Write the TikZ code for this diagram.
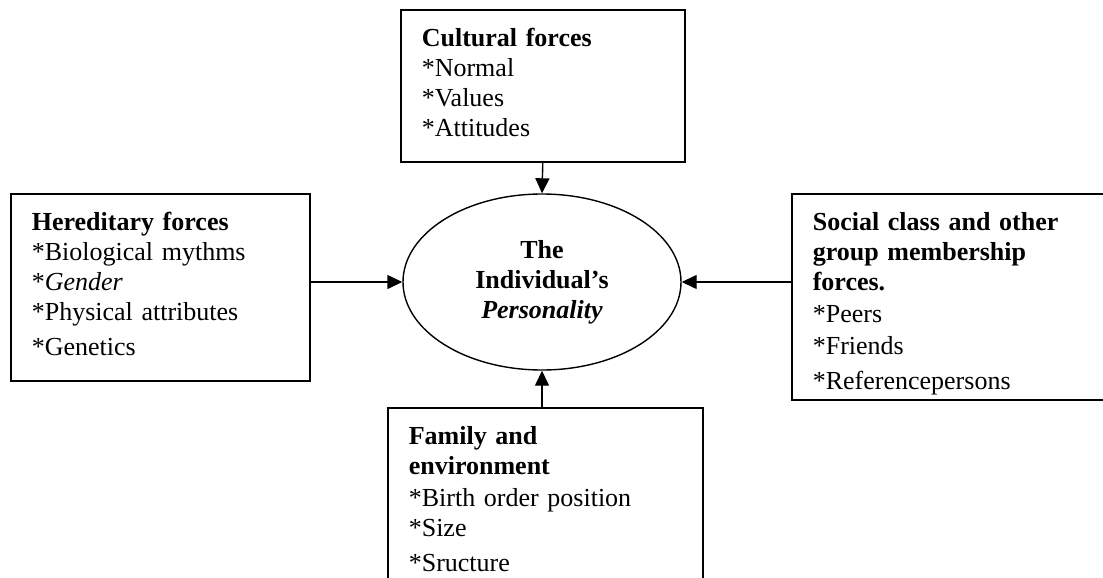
\documentclass[tikz,border=0pt]{standalone}
\usepackage{fontspec}
\setmainfont{Liberation Serif}
\usepackage{tikz}
\usetikzlibrary{arrows.meta,shapes.geometric}

\begin{document}
\begin{tikzpicture}[x=0.5pt, y=-0.5pt,
    forcebox/.style={draw, line width=0.8pt, anchor=north west, align=left,
        inner xsep=10.5pt, inner ysep=8pt, font=\fontsize{13}{15}\selectfont},
    pushes/.style={-{Triangle[length=7.5pt,width=7pt]}, line width=0.7pt}]
    \useasboundingbox (0,0) rectangle (1103,578);
    \clip (0,0) rectangle (1103,578);

    % Centre
    \node[draw, ellipse, line width=0.7pt, minimum width=139pt, minimum height=88pt,
        inner sep=0pt, align=center, font=\fontsize{13}{15}\selectfont\bfseries]
        (pers) at (542,282) {The\\ Individual's\\ \textit{Personality}};

    % Top
    \node[forcebox, text width=121pt] (cult) at (400,9)
        {\strut\textbf{Cultural forces}\\
         \strut*Normal\\
         \strut*Values\\
         \strut*Attitudes};

    % Left
    \node[forcebox, text width=128.5pt] (here) at (10,193)
        {\strut\textbf{Hereditary forces}\\
         \strut*Biological mythms\\
         \strut*\textit{Gender}\\
         \strut*Physical attributes\\[2.5pt]
         \strut*Genetics};

    % Right
    \node[forcebox, text width=160pt, text depth=76.5pt] (soc) at (791,193)
        {\strut\textbf{Social class and other}\\
         \strut\textbf{group membership}\\
         \strut\textbf{forces.}\\[1pt]
         \strut*Peers\\[1pt]
         \strut*Friends\\[2.5pt]
         *Referencepersons};

    % Bottom
    \node[forcebox, text width=136.5pt] (fam) at (387,407)
        {\strut\textbf{Family and}\\
         \strut\textbf{environment}\\[1pt]
         \strut*Birth order position\\
         \strut*Size\\[2.5pt]
         \strut*Sructure};

    \draw[pushes] (cult.south) -- (pers.north);
    \draw[pushes] (here.east |- pers.west) -- (pers.west);
    \draw[pushes] (soc.west |- pers.east) -- (pers.east);
    \draw[pushes] (pers.south |- fam.north) -- (pers.south);
\end{tikzpicture}
\end{document}
